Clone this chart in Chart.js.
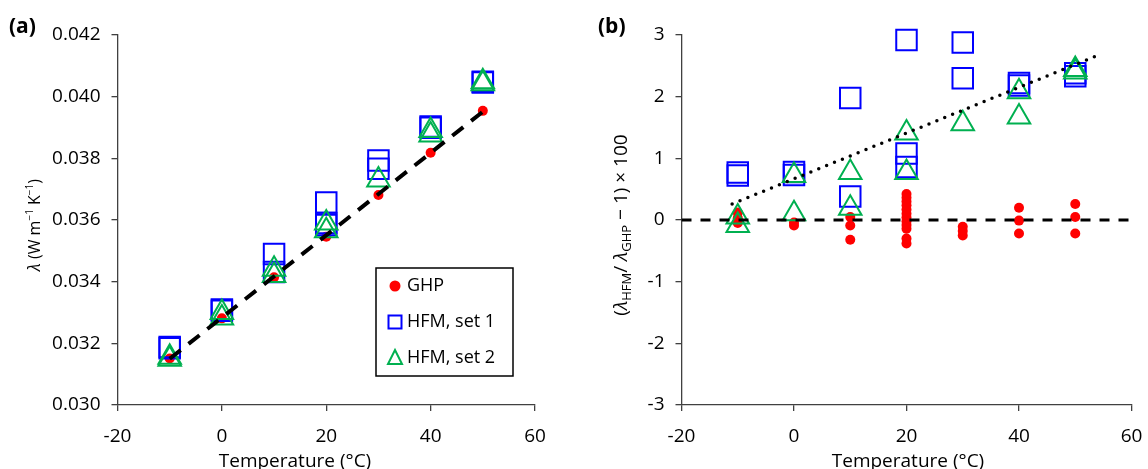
<!DOCTYPE html>
<html>
<head>
<meta charset="utf-8">
<script src="https://cdn.jsdelivr.net/npm/chart.js@4.4.1/dist/chart.umd.min.js"></script>
<style>
body { margin: 0; background: #fff; font-family: 'Open Sans', sans-serif; color: #000; }
#wrap { position: relative; width: 1148px; height: 469px; overflow: hidden; }
canvas { position: absolute; top: 0; }
#chartA { left: 0; }
#chartB { left: 580px; }
.lab { position: absolute; font-weight: bold; font-size: 21px; line-height: 1; }
.xtitle { position: absolute; transform: translate(-50%, -50%); white-space: nowrap; font-size: 19px; line-height: 1; }
.ytitle { position: absolute; transform: translate(-50%, -50%) rotate(-90deg); white-space: nowrap; line-height: 1; }
.ytitle sub { font-size: 13px; vertical-align: -4px; }
.ytitle sup { font-size: 10px; vertical-align: 7px; }
</style>
</head>
<body>
<div id="wrap">
	<canvas id="chartA" width="560" height="469"></canvas>
	<canvas id="chartB" width="568" height="469"></canvas>
	<div class="lab" style="left:9px; top:15px;">(a)</div>
	<div class="lab" style="left:598px; top:15px;">(b)</div>
	<div class="xtitle" style="left:295px; top:460px;">Temperature (°C)</div>
	<div class="xtitle" style="left:908px; top:460px;">Temperature (°C)</div>
	<div class="ytitle" style="left:33px; top:225px; font-size:16px;"><i>λ</i> (W m<sup>−1</sup> K<sup>−1</sup>)</div>
	<div class="ytitle" style="left:622px; top:225px; font-size:19px;">(<i>λ</i><sub>HFM</sub>/ <i>λ</i><sub>GHP</sub> − 1) × 100</div>
</div>
<script>
// Series names
var seriesNames = ['GHP', 'HFM, set 1', 'HFM, set 2'];

// (a) thermal conductivity vs temperature
var ghpTempsA = [-10, 0, 10, 20, 30, 40, 50];
var ghpA = [0.03151, 0.03281, 0.03414, 0.03546, 0.03681, 0.03818, 0.03954];
var hfm1TempsA = [-10, -10, 0, 0, 10, 10, 20, 20, 20, 30, 30, 40, 40, 50, 50];
var hfm1A = [0.03188, 0.03184, 0.03310, 0.03306, 0.03490, 0.03431, 0.03657, 0.03590, 0.03584, 0.03793, 0.03766, 0.03903, 0.03899, 0.04048, 0.04046];
var hfm2TempsA = [-10, -10, 0, 0, 10, 10, 20, 20, 30, 40, 40, 50, 50];
var hfm2A = [0.03155, 0.03148, 0.03300, 0.03282, 0.03440, 0.03420, 0.03590, 0.03565, 0.03730, 0.03890, 0.03876, 0.04048, 0.04042];
var fitTempsA = [-10, 50.5];
var fitA = [0.0315, 0.03958];

// (b) relative deviation (%)
var ghpTempsB = [-10, -10, -10, 0, 0, 10, 10, 10,
	20, 20, 20, 20, 20, 20, 20, 20, 20, 20, 20, 20,
	30, 30, 30, 40, 40, 40, 50, 50, 50];
var ghpB = [0.12, 0.03, -0.05, -0.04, -0.09, 0.05, -0.09, -0.32,
	0.42, 0.36, 0.30, 0.24, 0.17, 0.10, 0.04, -0.02, -0.08, -0.14, -0.30, -0.38,
	-0.11, -0.18, -0.25, 0.20, -0.01, -0.22, 0.26, 0.05, -0.22];
var hfm1TempsB = [-10, -10, 0, 0, 10, 10, 20, 20, 20, 30, 30, 40, 40, 50, 50];
var hfm1B = [0.77, 0.72, 0.78, 0.73, 1.98, 0.38, 2.92, 1.08, 0.86, 2.88, 2.30, 2.22, 2.18, 2.38, 2.33];
var hfm2TempsB = [-10, -10, 0, 0, 10, 10, 20, 20, 30, 40, 40, 50, 50];
var hfm2B = [0.05, -0.09, 0.72, 0.10, 0.77, 0.19, 1.41, 0.77, 1.56, 2.08, 1.67, 2.44, 2.40];
var trendTempsB = [-11, 54];
var trendB = [0.26, 2.67];
var zeroTempsB = [-20, 60];
var zeroB = [0, 0];

// Axis ticks
var xTicks = {min: -20, max: 60, step: 20};
var yTicksA = {min: 0.030, max: 0.042, step: 0.002};
var yTicksB = {min: -3, max: 3, step: 1};

var FONT = "'Open Sans', sans-serif";
var RED = '#FF0000', BLUE = '#0000FF', GREEN = '#00B050', AXIS = '#404040';

function pts(xs, ys) {
	return xs.map(function(x, i) { return {x: x, y: ys[i]}; });
}

function markerSets(g, gx, h1, h1x, h2, h2x) {
	return [
		{ label: seriesNames[0], data: pts(gx, g), order: 3, clip: false, pointStyle: 'circle', pointRadius: 5,
		  pointBackgroundColor: RED, pointBorderWidth: 0 },
		{ label: seriesNames[1], data: pts(h1x, h1), order: 2, clip: false, pointStyle: 'rect', pointRadius: 14.5,
		  pointBackgroundColor: 'rgba(0,0,0,0)', pointBorderColor: BLUE, pointBorderWidth: 2 },
		{ label: seriesNames[2], data: pts(h2x, h2), order: 1, clip: false, pointStyle: 'triangle', pointRadius: 13,
		  pointBackgroundColor: 'rgba(0,0,0,0)', pointBorderColor: GREEN, pointBorderWidth: 2 }
	];
}

function lineSet(xs, ys, width, dash, cap) {
	return { data: pts(xs, ys), showLine: true, order: 0, pointRadius: 0, borderColor: '#000',
		borderWidth: width, borderDash: dash, borderCapStyle: cap, fill: false };
}

function xAxis() {
	return {
		type: 'linear', min: xTicks.min, max: xTicks.max,
		border: { color: AXIS, width: 1.3 },
		grid: { drawOnChartArea: false, tickLength: 6, color: AXIS, lineWidth: 1.3 },
		ticks: { stepSize: xTicks.step, color: '#000', font: { family: FONT, size: 19 }, padding: 14,
			callback: function(v) { return String(v); } },
		// fixed height, and no extra side padding for the end labels
		afterFit: function(s) { s.height = 64; s.paddingLeft = 0; s.paddingRight = 0; }
	};
}

function yAxis(t, dec, w) {
	return {
		type: 'linear', min: t.min, max: t.max,
		border: { color: AXIS, width: 1.3 },
		grid: { drawOnChartArea: false, tickLength: 6, color: AXIS, lineWidth: 1.3 },
		ticks: { stepSize: t.step, color: '#000', font: { family: FONT, size: 19 }, padding: 11,
			callback: function(v) { return Number(v).toFixed(dec); } },
		afterFit: function(s) { s.width = w; }
	};
}

// Legend with a black frame, drawn inside the plot area
var boxLegend = {
	id: 'boxLegend',
	afterDraw: function(chart, args, opts) {
		if (!opts.show) return;
		var ctx = chart.ctx, a = chart.chartArea;
		var bx = a.right - 159, by = a.top + 233, bw = 137, bh = 108;
		ctx.save();
		ctx.lineWidth = 1.5;
		ctx.strokeStyle = '#000';
		ctx.fillStyle = '#fff';
		ctx.fillRect(bx, by, bw, bh);
		ctx.strokeRect(bx, by, bw, bh);
		ctx.font = '18px ' + FONT;
		ctx.textBaseline = 'middle';
		for (var i = 0; i < seriesNames.length; i++) {
			var cy = by + 18 + i * 36, mx = bx + 19;
			ctx.lineWidth = 2;
			if (i == 0) {
				ctx.fillStyle = RED;
				ctx.beginPath(); ctx.arc(mx, cy, 5.5, 0, Math.PI * 2); ctx.fill();
			} else if (i == 1) {
				ctx.strokeStyle = BLUE;
				ctx.strokeRect(mx - 6.5, cy - 6.5, 13, 13);
			} else {
				ctx.strokeStyle = GREEN;
				ctx.beginPath();
				ctx.moveTo(mx, cy - 8); ctx.lineTo(mx + 7, cy + 6); ctx.lineTo(mx - 7, cy + 6);
				ctx.closePath(); ctx.stroke();
			}
			ctx.fillStyle = '#000';
			ctx.fillText(seriesNames[i], bx + 31, cy);
		}
		ctx.restore();
	}
};

function makeChart(id, datasets, yax, legend, padRight) {
	return new Chart(document.getElementById(id), {
		type: 'scatter',
		data: { datasets: datasets },
		options: {
			responsive: false,
			animation: false,
			layout: { padding: { top: 35, right: padRight, bottom: 0, left: 0 } },
			plugins: { legend: { display: false }, tooltip: { enabled: false }, boxLegend: { show: legend } },
			scales: { x: xAxis(), y: yax }
		},
		plugins: [boxLegend]
	});
}

var chartA = makeChart('chartA',
	[lineSet(fitTempsA, fitA, 4, [14, 10], 'butt')].concat(markerSets(ghpA, ghpTempsA, hfm1A, hfm1TempsA, hfm2A, hfm2TempsA)),
	yAxis(yTicksA, 3, 117.5), true, 25);

var chartB = makeChart('chartB',
	[lineSet(trendTempsB, trendB, 3.5, [0, 8.5], 'round'), lineSet(zeroTempsB, zeroB, 3, [10, 9], 'butt')]
		.concat(markerSets(ghpB, ghpTempsB, hfm1B, hfm1TempsB, hfm2B, hfm2TempsB)),
	yAxis(yTicksB, 0, 101.5), false, 12);
</script>
</body>
</html>
